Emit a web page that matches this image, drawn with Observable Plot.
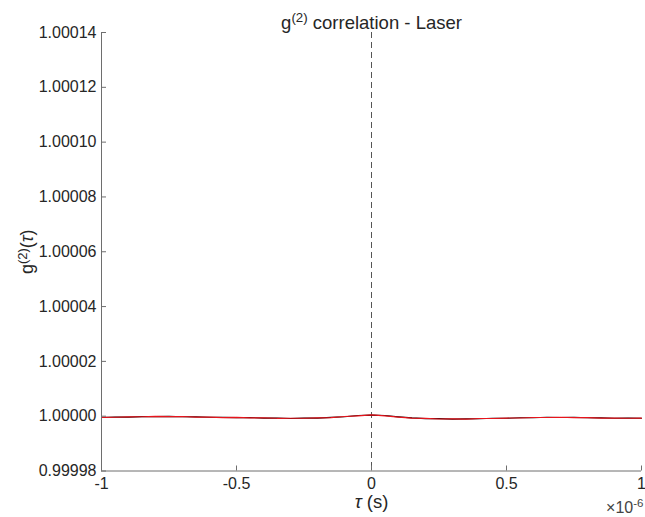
<!DOCTYPE html>
<html><head><meta charset="utf-8">
<script src="https://cdn.jsdelivr.net/npm/d3@7"></script>
<script src="https://cdn.jsdelivr.net/npm/@observablehq/plot@0.6"></script>
<style>body{margin:0;background:#fff} svg{display:block}</style>
</head><body><div id="chart"></div>
<script>
// tau in units of 1e-6 s
const tau = [-1,-0.95,-0.9,-0.85,-0.8,-0.75,-0.7,-0.65,-0.6,-0.55,-0.5,-0.45,-0.4,-0.35,-0.3,-0.25,-0.2,-0.15,-0.1,-0.05,0,
  0.05,0.1,0.15,0.2,0.25,0.3,0.35,0.4,0.45,0.5,0.55,0.6,0.65,0.7,0.75,0.8,0.85,0.9,0.95,1];
const g2Black = [0.99999953,0.99999968,0.99999966,0.99999985,0.99999984,0.99999994,0.99999978,0.99999975,0.99999959,0.99999957,
  0.99999948,0.9999995,0.9999993,0.99999932,0.99999916,0.99999931,0.9999993,0.99999958,0.99999978,1.00000023,1.0000004,
  1.00000024,0.99999976,0.99999938,0.99999912,0.9999991,0.99999894,0.99999903,0.99999905,0.99999925,0.99999923,
  0.99999943,0.99999945,0.99999961,0.99999952,0.99999958,0.99999941,0.99999939,0.99999923,0.99999931,0.99999924];
const g2Red = [0.99999956,0.99999959,0.99999975,0.99999978,0.99999993,0.99999985,0.99999986,0.99999967,0.99999967,0.99999949,
  0.99999957,0.9999994,0.99999938,0.99999922,0.99999924,0.99999923,0.99999938,0.99999948,0.99999986,1.00000013,1.00000048,
  1.00000012,0.99999966,0.9999993,0.9999992,0.999999,0.99999902,0.99999893,0.99999913,0.99999915,0.99999931,
  0.99999933,0.99999953,0.99999951,0.9999996,0.99999948,0.99999949,0.99999929,0.99999931,0.99999923,0.9999993];
const xTicks = [-1,-0.5,0,0.5,1];
const xTickLabels = ["-1","-0.5","0","0.5","1"];
const yTicks = [0.99998,1.00000,1.00002,1.00004,1.00006,1.00008,1.00010,1.00012,1.00014];
const yTickLabels = ["0.99998","1.00000","1.00002","1.00004","1.00006","1.00008","1.00010","1.00012","1.00014"];
const xDomain = [-1, 1];
const yDomain = [0.99998, 1.00014];
const titleParts = [["g",false],["(2)",true],[" correlation - Laser",false]];
const yLabelParts = [["g",false],["(2)",true],["(",false],["τ",false,true],[")",false]];
const xLabelParts = [["τ",false,true],[" (s)",false]];
const xScaleParts = [["×10",false],["-6",true]];

const blackRows = tau.map((t,i)=>({tau:t, g2:g2Black[i]}));
const redRows = tau.map((t,i)=>({tau:t, g2:g2Red[i]}));
const plain = parts => parts.map(p=>p[0]).join("");

const W=645, H=517, mt=32, mb=46.5, ml=101, mr=4;
const plotW = W-ml-mr, plotH = H-mt-mb;
const axisColor = "#6e6e6e";
const textColor = "#262626";

const chart = Plot.plot({
  width:W, height:H, marginTop:mt, marginBottom:mb, marginLeft:ml, marginRight:mr,
  style:{fontFamily:"'Liberation Sans', Arial, sans-serif", fontSize:"16px", color:textColor, background:"#fff", overflow:"visible"},
  x:{domain:xDomain},
  y:{domain:yDomain},
  marks:[
    Plot.ruleX([0], {stroke:"#555", strokeDasharray:"6,4", strokeWidth:1}),
    Plot.line(blackRows, {x:"tau", y:"g2", stroke:"#000", strokeWidth:1.1}),
    Plot.line(redRows, {x:"tau", y:"g2", stroke:"#e8141c", strokeWidth:1.1}),
    Plot.ruleX([xDomain[0]], {stroke:axisColor}),
    Plot.ruleY([yDomain[0]], {stroke:axisColor}),
    Plot.tickX(xTicks, {x:d=>d, stroke:axisColor, insetTop:plotH-5}),
    Plot.tickY(yTicks, {y:d=>d, stroke:axisColor, insetRight:plotW-5}),
    Plot.axisX({ticks:xTicks, tickSize:0, tickPadding:7, tickFormat:d=>xTickLabels[xTicks.indexOf(d)], label:null, fontSize:16}),
    Plot.axisY({ticks:yTicks, tickSize:0, tickPadding:5, tickFormat:d=>yTickLabels[yTicks.indexOf(d)], label:null, fontSize:16}),
    Plot.text([plain(titleParts)], {frameAnchor:"top", dy:-17, fontSize:18.5, fill:textColor}),
    Plot.text([plain(yLabelParts)], {frameAnchor:"left", dx:-74, rotate:-90, textAnchor:"middle", fontSize:18, fill:textColor}),
    Plot.text([plain(xLabelParts)], {frameAnchor:"bottom", dy:37, textAnchor:"middle", fontSize:18.5, fill:textColor}),
    Plot.text([plain(xScaleParts)], {frameAnchor:"bottom-right", dy:42, dx:2, textAnchor:"end", fontSize:16, fill:"#444"})
  ]
});

function richify(svg, parts){
  const s = plain(parts);
  svg.querySelectorAll("text").forEach(t=>{
    if (t.textContent === s) {
      t.textContent = "";
      let raised = false;
      parts.forEach(([str, sup, ital])=>{
        const ts = document.createElementNS("http://www.w3.org/2000/svg","tspan");
        ts.textContent = str;
        if (sup && !raised) { ts.setAttribute("dy","-0.5em"); ts.setAttribute("font-size","0.72em"); raised = true; }
        else if (sup) { ts.setAttribute("font-size","0.72em"); }
        else if (raised) { ts.setAttribute("dy","0.36em"); raised = false; }
        if (ital) ts.setAttribute("font-style","italic");
        t.appendChild(ts);
      });
    }
  });
}
[titleParts, yLabelParts, xLabelParts, xScaleParts].forEach(p=>richify(chart, p));
document.getElementById("chart").appendChild(chart);
</script>
</body></html>
